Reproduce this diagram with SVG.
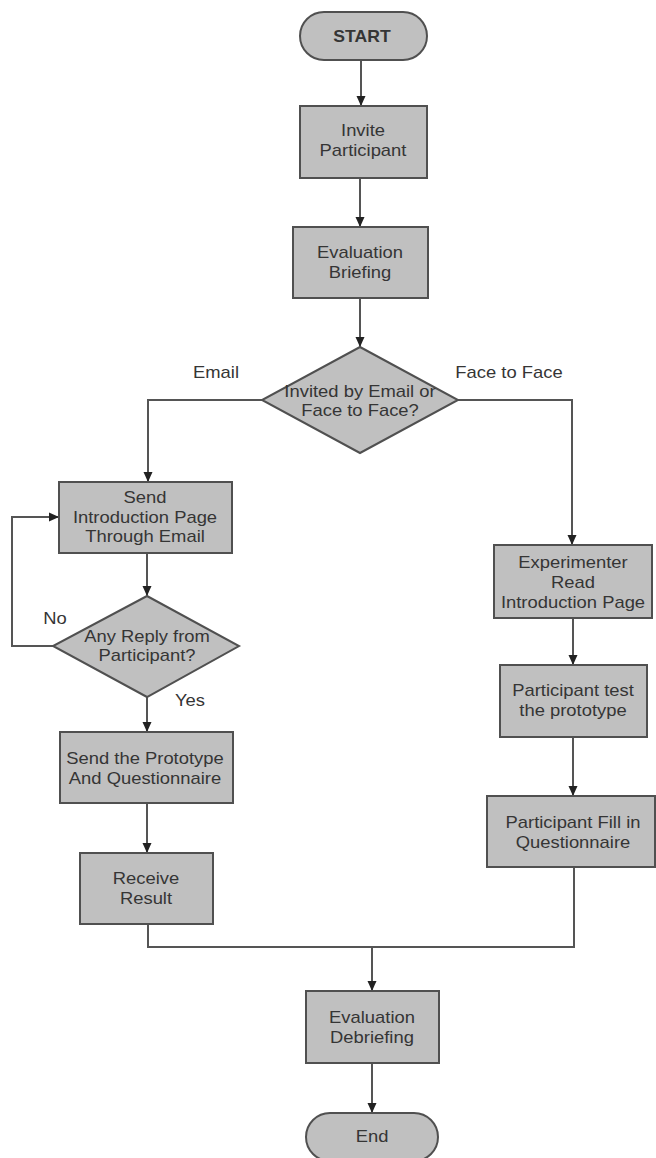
<svg xmlns="http://www.w3.org/2000/svg" width="656" height="1158" viewBox="0 0 656 1158">
<defs>
<marker id="arr" markerUnits="userSpaceOnUse" markerWidth="10" markerHeight="10" viewBox="0 0 10 10" refX="10" refY="5" orient="auto">
<path d="M0,0.5 L10,5 L0,9.5 z" fill="#222"/>
</marker>
<style>
.n{fill:#c0c0c0;stroke:#505050;stroke-width:2}
.t{font-family:"Liberation Sans",Arial,sans-serif;font-size:16px;fill:#353535;text-anchor:middle}
.b{font-weight:bold}
.c{fill:none;stroke:#555;stroke-width:2}
.a{marker-end:url(#arr)}
</style>
</defs>
<rect width="656" height="1158" fill="#fff"/>
<g id="connectors">
<path class="c a" d="M361,60 V106"/>
<path class="c a" d="M360,178 V227"/>
<path class="c a" d="M360,298 V347"/>
<path class="c a" d="M262,400 H148 V482"/>
<path class="c a" d="M458,400 H572 V545"/>
<path class="c a" d="M147,553 V596"/>
<path class="c a" d="M53,646 H12 V517 H59"/>
<path class="c a" d="M147,697 V732"/>
<path class="c a" d="M147,803 V853"/>
<path class="c a" d="M573,618 V665"/>
<path class="c a" d="M573,737 V796"/>
<path class="c" d="M148,924 V947 H574 V867"/>
<path class="c a" d="M372,947 V991"/>
<path class="c a" d="M372,1063 V1113"/>
</g>
<g id="labels">
<text class="t" transform="matrix(1.15 0 0 1 216 378)">Email</text>
<text class="t" transform="matrix(1.15 0 0 1 509 378)">Face to Face</text>
<text class="t" transform="matrix(1.15 0 0 1 55 624)">No</text>
<text class="t" transform="matrix(1.15 0 0 1 190 706)">Yes</text>
</g>
<g id="start">
<rect class="n" x="300" y="12" width="127" height="48" rx="24"/>
<text class="t b" transform="matrix(1.1 0 0 1 362 42)">START</text>
</g>
<g id="invite">
<rect class="n" x="300" y="106" width="127" height="72"/>
<text class="t" transform="matrix(1.15 0 0 1 363 136)">Invite</text>
<text class="t" transform="matrix(1.15 0 0 1 363 156)">Participant</text>
</g>
<g id="briefing">
<rect class="n" x="293" y="227" width="135" height="71"/>
<text class="t" transform="matrix(1.15 0 0 1 360 258)">Evaluation</text>
<text class="t" transform="matrix(1.15 0 0 1 360 278)">Briefing</text>
</g>
<g id="invited">
<polygon class="n" points="360,347 458,400 360,453 262,400"/>
<text class="t" transform="matrix(1.15 0 0 1 360 397)">Invited by Email or</text>
<text class="t" transform="matrix(1.15 0 0 1 360 416)">Face to Face?</text>
</g>
<g id="sendintro">
<rect class="n" x="59" y="482" width="173" height="71"/>
<text class="t" transform="matrix(1.15 0 0 1 145 503)">Send</text>
<text class="t" transform="matrix(1.15 0 0 1 145 523)">Introduction Page</text>
<text class="t" transform="matrix(1.15 0 0 1 145 542)">Through Email</text>
</g>
<g id="reply">
<polygon class="n" points="147,596 239,646 147,697 53,646"/>
<text class="t" transform="matrix(1.15 0 0 1 147 642)">Any Reply from</text>
<text class="t" transform="matrix(1.15 0 0 1 147 661)">Participant?</text>
</g>
<g id="sendproto">
<rect class="n" x="60" y="732" width="173" height="71"/>
<text class="t" transform="matrix(1.15 0 0 1 145 764)">Send the Prototype</text>
<text class="t" transform="matrix(1.15 0 0 1 145 784)">And Questionnaire</text>
</g>
<g id="receive">
<rect class="n" x="80" y="853" width="133" height="71"/>
<text class="t" transform="matrix(1.15 0 0 1 146 884)">Receive</text>
<text class="t" transform="matrix(1.15 0 0 1 146 904)">Result</text>
</g>
<g id="experimenter">
<rect class="n" x="494" y="545" width="158" height="73"/>
<text class="t" transform="matrix(1.15 0 0 1 573 568)">Experimenter</text>
<text class="t" transform="matrix(1.15 0 0 1 573 588)">Read</text>
<text class="t" transform="matrix(1.15 0 0 1 573 608)">Introduction Page</text>
</g>
<g id="test">
<rect class="n" x="500" y="665" width="147" height="72"/>
<text class="t" transform="matrix(1.15 0 0 1 573 696)">Participant test</text>
<text class="t" transform="matrix(1.15 0 0 1 573 716)">the prototype</text>
</g>
<g id="fill">
<rect class="n" x="487" y="796" width="168" height="71"/>
<text class="t" transform="matrix(1.15 0 0 1 573 828)">Participant Fill in</text>
<text class="t" transform="matrix(1.15 0 0 1 573 848)">Questionnaire</text>
</g>
<g id="debriefing">
<rect class="n" x="306" y="991" width="133" height="72"/>
<text class="t" transform="matrix(1.15 0 0 1 372 1023)">Evaluation</text>
<text class="t" transform="matrix(1.15 0 0 1 372 1043)">Debriefing</text>
</g>
<g id="end">
<rect class="n" x="306" y="1113" width="132" height="48" rx="24"/>
<text class="t" transform="matrix(1.15 0 0 1 372 1142)">End</text>
</g>
</svg>
